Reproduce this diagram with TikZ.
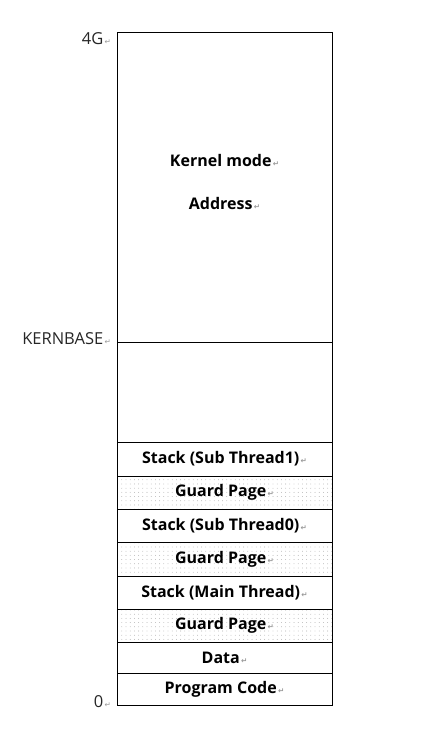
\documentclass[tikz,border=0pt]{standalone}
\usepackage{fontspec}
\setmainfont{Open Sans}
\newfontfamily\retfont{DejaVu Sans}
\usetikzlibrary{patterns.meta}
\newcommand\parmk{{\retfont\fontsize{7.5}{7.5}\selectfont\color{black!40}\,↵}}
\begin{document}
\begin{tikzpicture}
[   x=1pt,y=-1pt,
    seg/.style={draw=black,line width=0.9pt,minimum width=215pt,minimum height=#1,inner sep=0pt,
        font=\fontsize{16}{16}\selectfont\bfseries},
    guard/.style={pattern={Dots[radius=0.4pt,distance=4.2pt]},pattern color=black!40},
    addr/.style={anchor=east,inner sep=0pt,font=\fontsize{16.5}{16.5}\selectfont\color{black!85}},
]
    \useasboundingbox (0,0) rectangle (430,736);

    % kernel part and free user part
    \node[seg=310pt] (kernel) at (224.5,187) {};
    \node[font=\fontsize{16}{16}\selectfont\bfseries,align=center] (ktext) at (224.5,181.5)
        {Kernel mode\parmk\\[27pt]Address\parmk};
    \node[seg=100pt] (free) at (224.5,392) {};

    % stacks, guard pages, data, code
    \foreach \t/\b/\txt/\g [count=\i] in {442/476/Stack (Sub Thread1)/,476/509/Guard Page/guard,
        509/542/Stack (Sub Thread0)/,542/576/Guard Page/guard,576/609/Stack (Main Thread)/,
        609/642/Guard Page/guard,642/673/Data/,673/705/Program Code/}
    {   \node[seg=(\b-\t)*1pt,\g] (row-\i) at (224.5,{(\t+\b)/2}) {\txt\parmk};
    }

    \node[addr] (top) at (111,39) {4G\parmk};
    \node[addr] (kbase) at (111,339) {KERNBASE\parmk};
    \node[addr] (zero) at (111,702) {0\parmk};
\end{tikzpicture}
\end{document}
